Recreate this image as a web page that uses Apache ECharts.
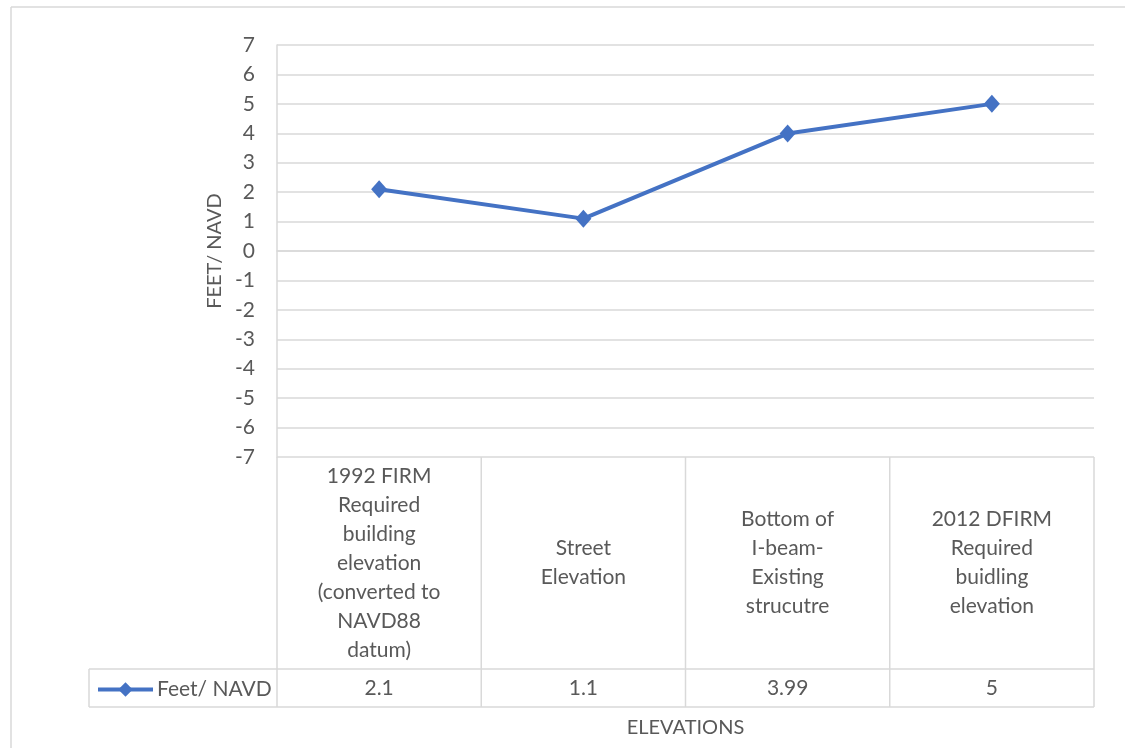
<!DOCTYPE html>
<html>
<head>
<meta charset="utf-8">
<script src="https://cdn.jsdelivr.net/npm/echarts@6/dist/echarts.min.js"></script>
<style>
  html, body { margin: 0; padding: 0; background: #ffffff; }
  #chart { width: 1125px; height: 748px; }
</style>
</head>
<body>
<div id="chart"></div>
<script>
// Elevation categories (shown in the data table under the plot)
const categories = [
  '1992 FIRM\nRequired\nbuilding\nelevation\n(converted to\nNAVD88\ndatum)',
  'Street\nElevation',
  'Bottom of\nI-beam-\nExisting\nstrucutre',
  '2012 DFIRM\nRequired\nbuidling\nelevation'
];
// Feet / NAVD values for each category
const seriesName = 'Feet/ NAVD';
const values = [2.1, 1.1, 3.99, 5];
// Value axis range
const yMin = -7;
const yMax = 7;
const yStep = 1;

const FONT = 'Lato, "Open Sans", sans-serif';
const TEXT = '#595959';
const RULE = '#D9D9D9';
const BLUE = '#4472C4';

// plot area and data table geometry
const G = { left: 277, top: 45, width: 817, height: 412 };
const labelRowH = 212;
const valueRowH = 38;
const legendCellLeft = 89;

const chart = echarts.init(document.getElementById('chart'), null, { renderer: 'canvas' });

const gBottom = G.top + G.height;
const gRight = G.left + G.width;
const rowSplit = gBottom + labelRowH;
const tableBottom = rowSplit + valueRowH;

// table rules
const lineStyle = { stroke: RULE, lineWidth: 1.5 };
const rules = [];
const hLine = (x1, x2, y) => rules.push({ type: 'line', shape: { x1, y1: y, x2, y2: y }, style: lineStyle, silent: true });
const vLine = (x, y1, y2) => rules.push({ type: 'line', shape: { x1: x, y1, x2: x, y2 }, style: lineStyle, silent: true });
hLine(legendCellLeft, gRight, rowSplit);
hLine(legendCellLeft, gRight, tableBottom);
for (let i = 0; i <= categories.length; i++) {
  vLine(G.left + G.width * i / categories.length, gBottom, tableBottom);
}
vLine(legendCellLeft, rowSplit, tableBottom);
// chart border
hLine(11, 1125, 7);
vLine(11, 7, 748);

chart.setOption({
  animation: false,
  backgroundColor: '#ffffff',
  textStyle: { fontFamily: FONT, color: TEXT },
  grid: { left: G.left, top: G.top, width: G.width, height: G.height, containLabel: false },
  legend: {
    left: legendCellLeft + 7,
    top: rowSplit + 10,
    padding: 0,
    itemWidth: 55,
    itemHeight: 18,
    itemGap: 4,
    lineStyle: { width: 4 },
    textStyle: { fontFamily: FONT, fontSize: 21, color: TEXT, padding: [0, 0, 0, -1] },
    data: [seriesName]
  },
  xAxis: [
    {
      type: 'category',
      data: categories,
      boundaryGap: true,
      position: 'bottom',
      axisLine: { show: true, lineStyle: { color: RULE, width: 1.5 } },
      axisTick: { show: false },
      axisLabel: {
        interval: 0,
        margin: labelRowH / 2,
        verticalAlign: 'middle',
        align: 'center',
        lineHeight: 29,
        fontSize: 21,
        fontFamily: FONT,
        color: TEXT
      },
      name: 'ELEVATIONS',
      nameLocation: 'middle',
      nameGap: 261,
      nameTextStyle: { fontSize: 20, fontFamily: FONT, color: TEXT, verticalAlign: 'top' }
    },
    {
      type: 'category',
      data: categories,
      boundaryGap: true,
      position: 'bottom',
      offset: labelRowH,
      axisLine: { show: false },
      axisTick: { show: false },
      axisLabel: {
        interval: 0,
        margin: valueRowH / 2,
        verticalAlign: 'middle',
        align: 'center',
        fontSize: 21,
        fontFamily: FONT,
        color: TEXT,
        formatter: (v, i) => String(values[i])
      }
    }
  ],
  yAxis: {
    type: 'value',
    min: yMin,
    max: yMax,
    interval: yStep,
    axisLine: { show: true, lineStyle: { color: RULE, width: 1.5 } },
    axisTick: { show: false },
    splitLine: { show: true, lineStyle: { color: RULE, width: 1.5 } },
    axisLabel: { margin: 22, fontSize: 21, fontFamily: FONT, color: TEXT },
    name: 'FEET/ NAVD',
    nameLocation: 'middle',
    nameGap: 52,
    nameRotate: 90,
    nameTextStyle: { fontSize: 20, fontFamily: FONT, color: TEXT }
  },
  series: [{
    name: seriesName,
    type: 'line',
    xAxisIndex: 0,
    data: values,
    symbol: 'diamond',
    symbolSize: [16, 18],
    showSymbol: true,
    lineStyle: { color: BLUE, width: 4 },
    itemStyle: { color: BLUE },
    z: 5
  }],
  graphic: rules
});
</script>
</body>
</html>
